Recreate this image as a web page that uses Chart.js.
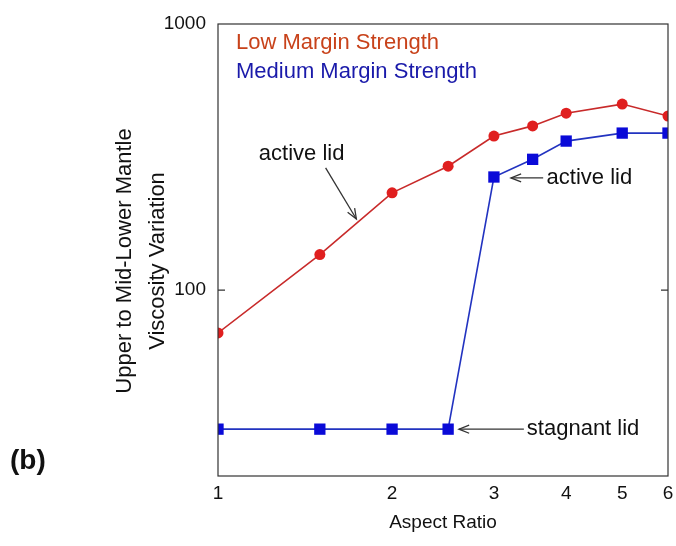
<!DOCTYPE html>
<html>
<head>
<meta charset="utf-8">
<script src="https://cdn.jsdelivr.net/npm/chart.js@4.4.0/dist/chart.umd.min.js"></script>
<style>
  html, body { margin: 0; padding: 0; background: #fff; }
  #wrap { width: 676px; height: 546px; position: relative; }
</style>
</head>
<body>
<div id="wrap"><canvas id="chart"></canvas></div>
<script>
// aspect ratios (x) and viscosity variation (y)
var aspectRatios = [1, 1.5, 2, 2.5, 3, 3.5, 4, 5, 6];
var lowMargin = [69, 136, 232, 292, 379, 414, 462, 500, 451];
var mediumMargin = [30, 30, 30, 30, 266, 310, 363, 389, 389];
var xTicks = [1, 2, 3, 4, 5, 6];
var yTicks = [100, 1000];
var yTitle = ['Upper to Mid-Lower Mantle', 'Viscosity Variation'];

var FONT = '"Liberation Sans", Arial, Helvetica, sans-serif';

function toPoints(xs, ys) {
    return xs.map(function (x, i) { return { x: x, y: ys[i] }; });
}

// frame, inward ticks, legend text, y title, "(b)" and the arrow notes
var decorations = {
    id: 'decorations',
    afterDraw: function (chart) {
        var ctx = chart.ctx;
        var a = chart.chartArea;
        var xs = chart.scales.x, ys = chart.scales.y;
        ctx.save();
        ctx.strokeStyle = '#333';
        ctx.lineWidth = 1.2;
        ctx.strokeRect(a.left, a.top, a.right - a.left, a.bottom - a.top);

        // inward tick marks at 100
        var y100 = ys.getPixelForValue(100);
        ctx.beginPath();
        ctx.moveTo(a.left, y100); ctx.lineTo(a.left + 7, y100);
        ctx.moveTo(a.right, y100); ctx.lineTo(a.right - 7, y100);
        ctx.stroke();

        // legend
        ctx.font = '22px ' + FONT;
        ctx.textBaseline = 'middle';
        ctx.textAlign = 'left';
        ctx.fillStyle = '#c8421a';
        ctx.fillText('Low Margin Strength', a.left + 18, a.top + 19);
        ctx.fillStyle = '#1a1aaa';
        ctx.fillText('Medium Margin Strength', a.left + 18, a.top + 48);

        // y axis title, two lines
        ctx.save();
        ctx.translate(125, 261);
        ctx.rotate(-Math.PI / 2);
        ctx.textAlign = 'center';
        ctx.fillStyle = '#111';
        ctx.fillText(yTitle[0], 0, 0);
        ctx.fillText(yTitle[1], 0, 33);
        ctx.restore();

        // panel label
        ctx.fillStyle = '#111';
        ctx.font = 'bold 28px ' + FONT;
        ctx.fillText('(b)', 10, 461);

        // annotations
        function px(x) { return xs.getPixelForValue(x); }
        function py(y) { return ys.getPixelForValue(y); }
        function arrow(x1, y1, x2, y2) {
            ctx.strokeStyle = '#333';
            ctx.lineWidth = 1.3;
            ctx.beginPath();
            ctx.moveTo(x1, y1);
            ctx.lineTo(x2, y2);
            ctx.stroke();
            var ang = Math.atan2(y2 - y1, x2 - x1);
            var len = 11, w = 0.38;
            ctx.beginPath();
            ctx.moveTo(x2 - len * Math.cos(ang - w), y2 - len * Math.sin(ang - w));
            ctx.lineTo(x2, y2);
            ctx.lineTo(x2 - len * Math.cos(ang + w), y2 - len * Math.sin(ang + w));
            ctx.stroke();
        }
        ctx.font = '22px ' + FONT;
        ctx.fillStyle = '#111';
        ctx.textBaseline = 'middle';

        ctx.textAlign = 'center';
        ctx.fillText('active lid', px(1.395), py(325));
        arrow(px(1.535), py(288), px(1.735), py(185));

        ctx.textAlign = 'left';
        ctx.fillText('active lid', px(3.7), py(264));
        arrow(px(3.65), py(264), px(3.21), py(264));

        ctx.fillText('stagnant lid', px(3.42), py(30));
        arrow(px(3.38), py(30), px(2.61), py(30));
        ctx.restore();
    }
};

new Chart(document.getElementById('chart'), {
    type: 'scatter',
    data: {
        datasets: [{
            label: 'Low Margin Strength',
            data: toPoints(aspectRatios, lowMargin),
            showLine: true,
            borderColor: '#c82a2a',
            borderWidth: 1.6,
            pointStyle: 'circle',
            pointRadius: 5.5,
            pointBackgroundColor: '#e01f1f',
            pointBorderColor: '#e01f1f',
            pointBorderWidth: 0
        }, {
            label: 'Medium Margin Strength',
            data: toPoints(aspectRatios, mediumMargin),
            showLine: true,
            borderColor: '#2233c0',
            borderWidth: 1.6,
            pointStyle: 'rect',
            pointRadius: 8,
            pointBackgroundColor: '#0a0ad8',
            pointBorderColor: '#0a0ad8',
            pointBorderWidth: 0
        }]
    },
    options: {
        responsive: true,
        maintainAspectRatio: false,
        animation: false,
        layout: { padding: { top: 24, right: 4, left: 0, bottom: 0 } },
        plugins: {
            legend: { display: false },
            tooltip: { enabled: false }
        },
        scales: {
            x: {
                type: 'logarithmic',
                min: 1,
                max: 6,
                grid: { display: false, drawTicks: false },
                border: { display: false },
                afterBuildTicks: function (scale) {
                    scale.ticks = xTicks.map(function (v) { return { value: v }; });
                },
                afterFit: function (scale) {
                    scale.height = 70;
                    scale.paddingLeft = 0;
                    scale.paddingRight = 0;
                },
                ticks: {
                    color: '#111',
                    font: { family: FONT, size: 19 },
                    padding: 6,
                    maxRotation: 0,
                    autoSkip: false,
                    callback: function (v) { return String(v); }
                },
                title: {
                    display: true,
                    text: 'Aspect Ratio',
                    color: '#111',
                    font: { family: FONT, size: 19 },
                    padding: { top: 0, bottom: 12 }
                }
            },
            y: {
                type: 'logarithmic',
                min: 20,
                max: 1000,
                grid: { display: false, drawTicks: false },
                border: { display: false },
                afterBuildTicks: function (scale) {
                    scale.ticks = yTicks.map(function (v) { return { value: v }; });
                },
                afterFit: function (scale) { scale.width = 218; },
                ticks: {
                    color: '#111',
                    font: { family: FONT, size: 19 },
                    padding: 12,
                    autoSkip: false,
                    callback: function (v) { return String(v); }
                }
            }
        }
    },
    plugins: [decorations]
});
</script>
</body>
</html>
